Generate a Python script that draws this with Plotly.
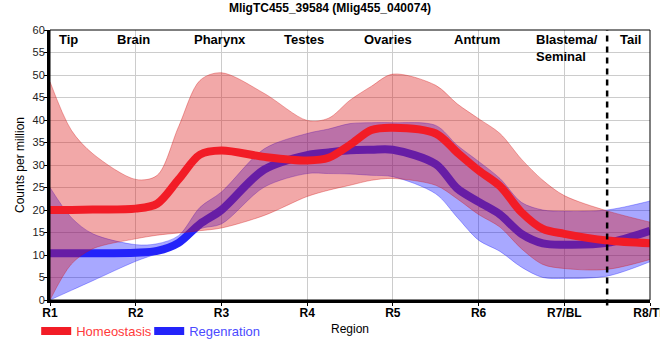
import plotly.graph_objects as go

# ---- data (at region / sub-region positions) ----
positions = [1, 1.25, 1.5, 2, 2.25, 2.5, 2.75, 3, 3.5, 4, 4.25, 4.5, 4.75, 5,
             5.5, 5.75, 6, 6.25, 6.5, 6.75, 7, 7.5, 8]
region_ticks = [1, 2, 3, 4, 5, 6, 7, 8]
region_labels = ["R1", "R2", "R3", "R4", "R5", "R6", "R7/BL", "R8/TL"]

homeo_mean = [20.0, 20.0, 20.1, 20.3, 21.4, 26.8, 32.3, 33.2, 31.8, 31.0, 31.6, 34.5, 37.8, 38.3,
              37.0, 32.8, 28.8, 25.3, 19.5, 15.8, 14.7, 13.2, 12.6]
homeo_upper = [48.5, 37.7, 32.5, 26.8, 27.7, 38.5, 48.8, 50.5, 45.9, 39.9, 40.4, 44.4, 47.5, 50.2,
               47.7, 43.6, 40.3, 37.0, 31.3, 26.6, 23.2, 19.8, 17.3]
homeo_lower = [0.0, 8.0, 11.4, 13.6, 14.4, 14.9, 15.4, 16.0, 18.8, 23.0, 24.4, 25.5, 26.6, 27.0,
               25.5, 22.5, 19.0, 16.2, 11.4, 7.9, 7.0, 6.8, 9.0]

regen_mean = [10.4, 10.4, 10.4, 10.5, 10.9, 12.7, 16.9, 20.0, 29.0, 32.2, 32.8, 33.3, 33.4, 33.4,
              30.2, 24.8, 21.8, 19.0, 14.7, 12.6, 12.3, 12.7, 15.4]
regen_upper = [25.0, 18.3, 14.7, 12.3, 12.5, 14.3, 20.6, 24.0, 33.6, 37.0, 38.0, 39.2, 39.4, 39.4,
               38.8, 34.4, 30.8, 27.0, 21.7, 20.0, 19.7, 20.0, 22.0]
regen_lower = [0.0, 2.15, 4.3, 8.6, 10.3, 12.1, 15.8, 16.9, 25.1, 28.1, 28.1, 28.0, 27.7, 27.4,
               23.6, 18.4, 13.3, 10.8, 7.3, 5.0, 4.8, 5.3, 8.5]

tissue_names = ["Tip", "Brain", "Pharynx", "Testes", "Ovaries", "Antrum", "Blastema/<br>Seminal", "Tail"]
tissue_pos = [1.22, 1.97, 2.98, 3.96, 4.94, 5.98, 6.65, 7.77]
boundary = 7.5

title_text = "MligTC455_39584 (Mlig455_040074)"
font_family = "Arial, Liberation Sans, sans-serif"

RED_BAND = "rgba(220,20,20,0.37)"
RED_EDGE = "rgba(210,20,20,0.35)"
BLUE_BAND = "rgba(0,0,255,0.34)"
BLUE_EDGE = "rgba(0,0,255,0.3)"
RED_LINE = "rgb(242,28,38)"
BLUE_LINE = "rgb(35,35,250)"
SMOOTH = 0.9

fig = go.Figure()

def band(upper, lower, fillcolor, edge):
    fig.add_trace(go.Scatter(x=positions, y=upper, mode="lines",
                             line=dict(color=edge, width=1, shape="spline", smoothing=SMOOTH),
                             showlegend=False, hoverinfo="skip"))
    fig.add_trace(go.Scatter(x=positions, y=lower, mode="lines", fill="tonexty",
                             fillcolor=fillcolor,
                             line=dict(color=edge, width=1, shape="spline", smoothing=SMOOTH),
                             showlegend=False, hoverinfo="skip"))

# order: blue band, blue line, red band, red line
band(regen_upper, regen_lower, BLUE_BAND, BLUE_EDGE)
fig.add_trace(go.Scatter(x=positions, y=regen_mean, mode="lines",
                         name='<span style="color:#4a4aff">Regenration</span>',
                         line=dict(color=BLUE_LINE, width=8, shape="spline", smoothing=SMOOTH),
                         legendrank=2))
band(homeo_upper, homeo_lower, RED_BAND, RED_EDGE)
fig.add_trace(go.Scatter(x=positions, y=homeo_mean, mode="lines",
                         name='<span style="color:#ff3a3a">Homeostasis</span>',
                         line=dict(color=RED_LINE, width=8, shape="spline", smoothing=SMOOTH),
                         legendrank=1))

# tissue annotations along the top
for name, pos in zip(tissue_names, tissue_pos):
    is_multi = "<br>" in name
    fig.add_annotation(x=pos, y=59.9, xref="x", yref="y",
                       text="<b>" + name + "</b>", showarrow=False,
                       xanchor="left" if is_multi else "center", yanchor="top",
                       align="left",
                       font=dict(size=13, color="black", family=font_family))

# dashed boundary line
fig.add_shape(type="line", xref="x", yref="paper", x0=boundary, x1=boundary, y0=-0.02, y1=1,
              line=dict(color="black", width=2.5, dash="6px,5px"))
# thin frame top/right
fig.add_shape(type="rect", xref="paper", yref="paper", x0=0, x1=1, y0=0, y1=1,
              line=dict(color="black", width=1), layer="above")

fig.update_layout(
    width=660, height=360,
    margin=dict(l=50, r=10, t=30, b=60),
    paper_bgcolor="white", plot_bgcolor="white",
    font=dict(family=font_family, size=11, color="#222"),
    title=dict(text="<b>" + title_text + "</b>", x=0.5, xanchor="center",
               y=0.977, yanchor="middle", yref="container",
               font=dict(size=12, color="black", family=font_family)),
    showlegend=True,
    legend=dict(orientation="h", x=-0.023, xanchor="left", y=-0.115, yanchor="middle",
                font=dict(size=13, family=font_family), bgcolor="rgba(0,0,0,0)",
                traceorder="normal", itemwidth=30, entrywidth=68, entrywidthmode="pixels"),
    xaxis=dict(range=[1, 8], tickmode="array", tickvals=region_ticks,
               ticktext=["<b>" + t + "</b>" for t in region_labels],
               tickfont=dict(size=12, color="black"),
               ticklabeloverflow="allow", automargin=False,
               showgrid=True, gridcolor="#cccccc", gridwidth=1,
               showline=True, linecolor="black", linewidth=3,
               ticks="outside", ticklen=3, tickcolor="black", ticklabelstandoff=-3,
               zeroline=False,
               title=dict(text="Region", standoff=6, font=dict(size=12, color="black"))),
    yaxis=dict(range=[0, 60], tickmode="linear", tick0=0, dtick=5,
               automargin=False,
               showgrid=True, gridcolor="#cccccc", gridwidth=1,
               showline=True, linecolor="black", linewidth=3,
               ticks="outside", ticklen=3, tickcolor="black", ticklabelstandoff=-3,
               tickfont=dict(size=11, color="#222"),
               zeroline=False,
               title=dict(text="Counts per million", standoff=6, font=dict(size=12, color="black"))),
)

fig.write_html("out.html", config={"displayModeBar": False},
               post_script="document.body.style.margin='0';document.body.style.padding='0';")
